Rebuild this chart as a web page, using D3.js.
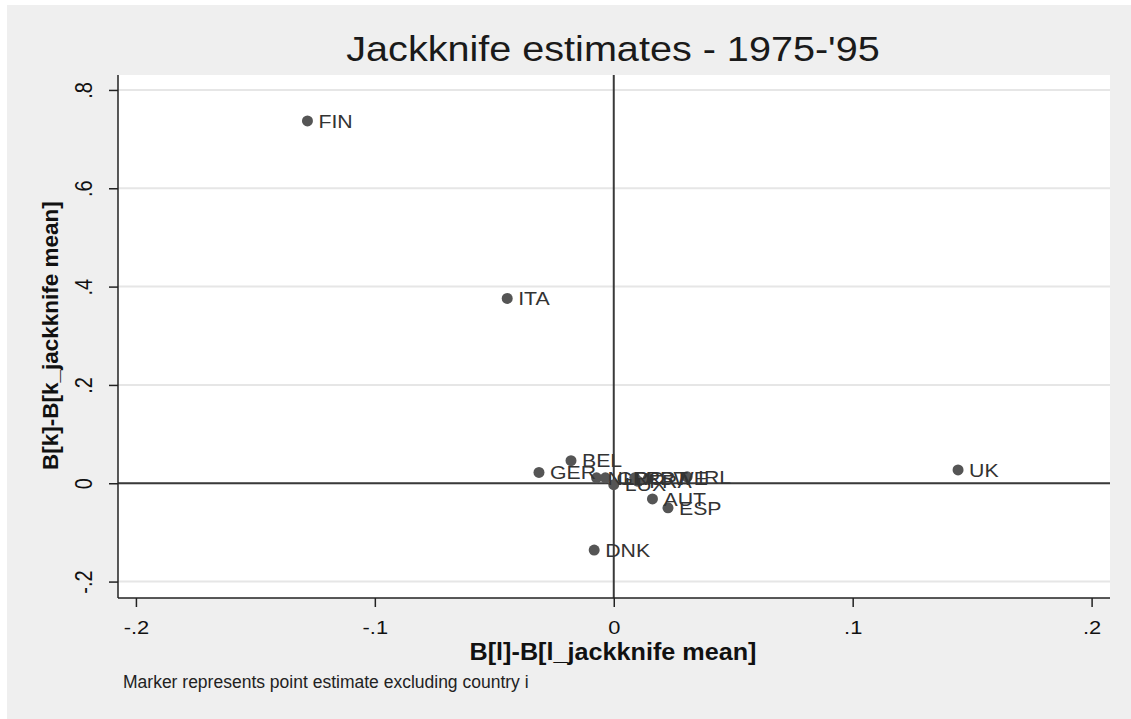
<!DOCTYPE html>
<html>
<head>
<meta charset="utf-8">
<script src="https://cdn.jsdelivr.net/npm/d3@7"></script>
<style>
  html, body { margin: 0; padding: 0; background: #ffffff; }
  svg { display: block; font-family: "Liberation Sans", Arial, sans-serif; }
</style>
</head>
<body>
<svg id="chart" width="1131" height="719"></svg>
<script>
// Jackknife influence of each country on the two coefficients
const countries = ["FIN", "ITA", "UK", "DNK", "BEL", "GER", "AUT", "ESP", "IRL", "NLD", "GRC", "LUX", "PRT", "FRA", "SWE"];
const xValues   = [-0.1282, -0.0446, 0.1441, -0.0082, -0.0179, -0.0313, 0.0162, 0.0227, 0.0307, -0.0072, -0.0035, 0.0000, 0.0088, 0.0102, 0.0145];
const yValues   = [0.737, 0.376, 0.027, -0.136, 0.046, 0.022, -0.032, -0.050, 0.013, 0.011, 0.011, -0.003, 0.011, 0.004, 0.010];

const xTicks = [-0.2, -0.1, 0, 0.1, 0.2];
const xTickLabels = ["-.2", "-.1", "0", ".1", ".2"];
const yTicks = [-0.2, 0, 0.2, 0.4, 0.6, 0.8];
const yTickLabels = ["-.2", "0", ".2", ".4", ".6", ".8"];

const titleText = "Jackknife estimates - 1975-'95";
const xTitle = "B[l]-B[l_jackknife mean]";
const yTitle = "B[k]-B[k_jackknife mean]";
const noteText = "Marker represents point estimate excluding country i";

const points = countries.map((c, i) => ({ name: c, x: xValues[i], y: yValues[i] }));

const svg = d3.select("#chart");
const W = 1131, H = 719;
const plot = { left: 118, right: 1110, top: 75, bottom: 598 };
const stretch = 1.15; // horizontal widening of the text glyphs

// graph region
svg.append("rect").attr("x", 0).attr("y", 0).attr("width", W).attr("height", H).attr("fill", "#ffffff");
svg.append("rect").attr("x", 7).attr("y", 5).attr("width", W - 7).attr("height", H - 5).attr("fill", "#efefef");

const x = d3.scaleLinear().domain([-0.2075, 0.2077]).range([plot.left, plot.right]);
const y = d3.scaleLinear().domain([-0.2334, 0.8304]).range([plot.bottom, plot.top]);

// plot region
svg.append("rect")
  .attr("x", plot.left).attr("y", plot.top)
  .attr("width", plot.right - plot.left).attr("height", plot.bottom - plot.top)
  .attr("fill", "#ffffff");

// horizontal grid lines
svg.append("g").selectAll("line").data(yTicks).join("line")
  .attr("x1", plot.left).attr("x2", plot.right)
  .attr("y1", d => y(d)).attr("y2", d => y(d))
  .attr("stroke", "#e6e6e6").attr("stroke-width", 2);

// reference lines through zero
svg.append("line")
  .attr("x1", plot.left).attr("x2", plot.right)
  .attr("y1", y(0)).attr("y2", y(0))
  .attr("stroke", "#3a3a3a").attr("stroke-width", 2);
svg.append("line")
  .attr("x1", x(0)).attr("x2", x(0))
  .attr("y1", plot.top).attr("y2", plot.bottom)
  .attr("stroke", "#3a3a3a").attr("stroke-width", 2);

// axes
const xAxis = d3.axisBottom(x).tickValues(xTicks).tickFormat((d, i) => xTickLabels[i]).tickSize(9).tickPadding(8);
const gx = svg.append("g").attr("transform", `translate(0,${plot.bottom})`).call(xAxis);
gx.select(".domain").attr("d", `M${plot.left},0H${plot.right}`).attr("stroke", "#222").attr("stroke-width", 1.5);
gx.selectAll(".tick line").attr("stroke", "#222").attr("stroke-width", 1.5);
gx.selectAll(".tick text")
  .attr("fill", "#111").style("font-size", "19px")
  .attr("y", null).attr("dy", null)
  .attr("transform", `translate(0,36) scale(${stretch},1)`);

const yAxis = d3.axisLeft(y).tickValues(yTicks).tickFormat((d, i) => yTickLabels[i]).tickSize(9).tickPadding(0);
const gy = svg.append("g").attr("transform", `translate(${plot.left},0)`).call(yAxis);
gy.select(".domain").attr("d", `M0,${plot.top}V${plot.bottom}`).attr("stroke", "#222").attr("stroke-width", 1.5);
gy.selectAll(".tick line").attr("stroke", "#222").attr("stroke-width", 1.5);
gy.selectAll(".tick text")
  .attr("fill", "#111").style("font-size", "20px")
  .attr("x", null).attr("dy", null)
  .attr("text-anchor", "middle")
  .attr("transform", `translate(-26,0) rotate(-90) scale(1,${stretch})`);

// markers and country labels
const marks = svg.append("g");
marks.selectAll("circle").data(points).join("circle")
  .attr("cx", d => x(d.x)).attr("cy", d => y(d.y)).attr("r", 5.5)
  .attr("fill", "#555555");
marks.selectAll("text").data(points).join("text")
  .attr("transform", d => `translate(${x(d.x) + 11},${y(d.y)}) scale(${stretch},1)`)
  .attr("dy", "0.36em")
  .attr("fill", "#333333")
  .style("font-size", "18.5px")
  .text(d => d.name);

// titles
svg.append("text").attr("transform", "translate(613,61) scale(1.1,1)").attr("text-anchor", "middle")
  .attr("fill", "#1a1a1a").style("font-size", "36px").text(titleText);
svg.append("text").attr("transform", "translate(613,660) scale(1.05,1)").attr("text-anchor", "middle")
  .attr("fill", "#111").style("font-size", "24px").style("font-weight", "bold").text(xTitle);
svg.append("text").attr("transform", "translate(58,470) rotate(-90)").attr("text-anchor", "start")
  .attr("fill", "#111").style("font-size", "22.5px").style("font-weight", "bold").text(yTitle);
svg.append("text").attr("transform", "translate(123,688)")
  .attr("fill", "#222").style("font-size", "17.5px").text(noteText);
</script>
</body>
</html>
